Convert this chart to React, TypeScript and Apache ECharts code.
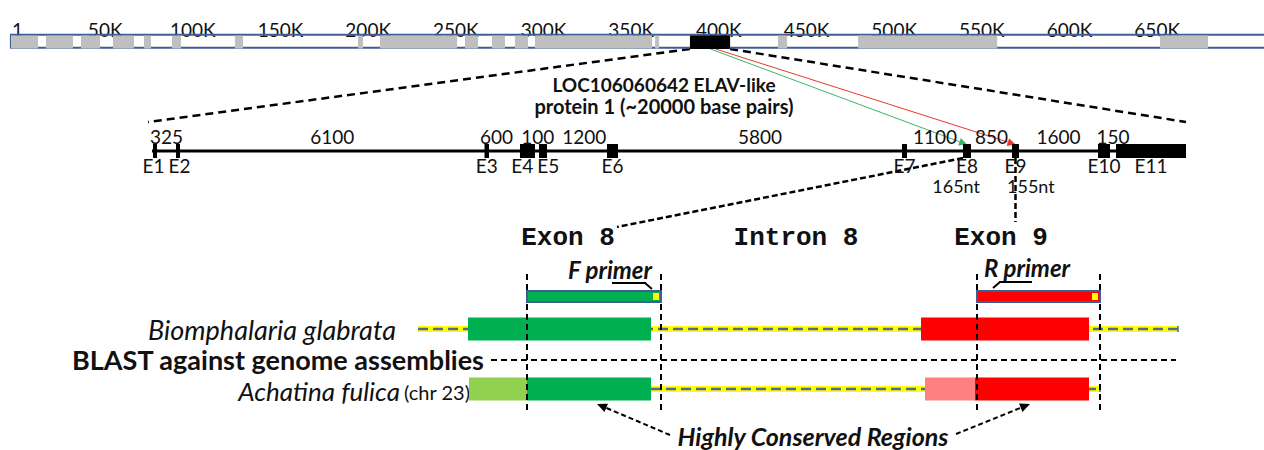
import React, { useEffect, useRef } from "react";
import * as echarts from "echarts";

// ---------- Scaffold (top strip, genome coordinates in bp) ----------
const genomeTicks = [1, 50000, 100000, 150000, 200000, 250000, 300000, 350000, 400000, 450000, 500000, 550000, 600000, 650000];
const genomeTickLabels = ["1", "50K", "100K", "150K", "200K", "250K", "300K", "350K", "400K", "450K", "500K", "550K", "600K", "650K"];
const scaffoldLength = 715200;
const grayStarts = [600, 20500, 40500, 58700, 76400, 92400, 128300, 198500, 211000, 259500, 274900, 288000, 299400, 367900, 438000, 483700, 655900];
const grayEnds = [16000, 35900, 51300, 70700, 80400, 97500, 132900, 201300, 255000, 266900, 282300, 295400, 366200, 370200, 443200, 563000, 683300];
const locusStart = 387800;
const locusEnd = 410700;
const exon8Origin = 399500;
const exon9Origin = 402500;
const locusTitle = ["LOC106060642 ELAV-like", "protein 1 (~20000 base pairs)"];

// ---------- Gene model (bp along the gene) ----------
const geneLength = 20720;
const geneLineStart = 40;
const exonNames = ["E1", "E2", "E3", "E4", "E5", "E6", "E7", "E8", "E9", "E10", "E11"];
const exonStarts = [60, 520, 6690, 7400, 7780, 9140, 15040, 16260, 17240, 18960, 19320];
const exonEnds = [140, 600, 6780, 7700, 7940, 9360, 15140, 16420, 17380, 19200, 20720];
const intronLengths = ["325", "6100", "600", "100", "1200", "5800", "1100", "850", "1600", "150"];
const exonNotes = ["", "", "", "", "", "", "", "165nt", "155nt", "", ""];

// ---------- Zoomed schematic (schematic units) ----------
const zoomHeadings = ["Exon 8", "Intron 8", "Exon 9"];
const speciesNames = ["Biomphalaria glabrata", "Achatina fulica"];
const speciesNote = "(chr 23)";
const backboneStarts = [418, 651];
const backboneEnds = [1178, 1100];
const blockRow = [0, 0, 1, 1, 1, 1];
const blockStarts = [468, 921, 469, 527, 925, 975];
const blockEnds = [651, 1089, 527, 651, 975, 1089];
const blockKinds = ["exon8", "exon9", "exon8Partial", "exon8", "exon9Partial", "exon9"];
const primerNames = ["F primer", "R primer"];
const primerStarts = [527, 977];
const primerEnds = [661, 1100];
const primerKinds = ["exon8", "exon9"];
const blastLabel = "BLAST against genome assemblies";
const conservedLabel = "Highly Conserved Regions";

// ---------- styles / layout ----------
const BLUE = "#3f5e98";
const GRAY = "#bfbfbf";
const INK = "#111111";
const KIND_COLORS: Record<string, string> = {
  exon8: "#00b050",
  exon8Partial: "#92d050",
  exon9: "#ff0000",
  exon9Partial: "#ff8080",
};
const FONT = "Lato";
const GENE_FS = 19;
const ROW_Y = [329, 389];
const BLOCK_H = 23;

function txt(x: number, y: number, text: string, font: string, align = "center", vAlign = "middle", extra: any = {}) {
  return {
    type: "text",
    x,
    y,
    silent: true,
    style: {
      text,
      font,
      fill: INK,
      align,
      verticalAlign: vAlign,
      textAlign: align,
      textVerticalAlign: vAlign,
      ...extra,
    },
  };
}

function seg(x1: number, y1: number, x2: number, y2: number, stroke: string, lineWidth: number, lineDash?: number[]) {
  return {
    type: "line",
    silent: true,
    shape: { x1, y1, x2, y2 },
    style: { stroke, lineWidth, lineDash: lineDash || null },
  };
}

function arrow(fx: number, fy: number, tx: number, ty: number, color: string, lw: number, len: number, half: number, dash?: number[]) {
  const dx = tx - fx;
  const dy = ty - fy;
  const d = Math.hypot(dx, dy);
  const ux = dx / d;
  const uy = dy / d;
  const bx = tx - ux * len;
  const by = ty - uy * len;
  return [
    seg(fx, fy, bx, by, color, lw, dash),
    {
      type: "polygon",
      silent: true,
      shape: {
        points: [
          [tx, ty],
          [bx - uy * half, by + ux * half],
          [bx + uy * half, by - ux * half],
        ],
      },
      style: { fill: color },
    },
  ];
}

// push neighbouring label centres apart so that their estimated widths do not collide
function spread(centers: number[], texts: string[], fs: number, gap: number) {
  const c = centers.slice();
  const w = texts.map((t) => t.length * fs * 0.58);
  for (let k = 0; k < 30; k++) {
    for (let i = 0; i < c.length - 1; i++) {
      const need = (w[i] + w[i + 1]) / 2 + gap;
      const d = c[i + 1] - c[i];
      if (d < need) {
        const p = (need - d) / 2;
        c[i] -= p;
        c[i + 1] += p;
      }
    }
  }
  return c;
}

export default function App() {
  const ref = useRef<HTMLDivElement>(null);

  useEffect(() => {
    if (!ref.current) return;
    const chart = echarts.init(ref.current, null, { renderer: "svg" });

    const geneLabelPositions = (api: any) => {
      const ex = exonStarts.map((s, i) => (api.coord([s, 0])[0] + api.coord([exonEnds[i], 0])[0]) / 2);
      const inx = intronLengths.map((_, i) => (api.coord([exonEnds[i], 0])[0] + api.coord([exonStarts[i + 1], 0])[0]) / 2);
      return {
        exonX: spread(ex, exonNames, GENE_FS, 4),
        intronX: spread(inx, intronLengths, GENE_FS, 8),
      };
    };

    const option: any = {
      animation: false,
      backgroundColor: "#ffffff",
      grid: [
        { left: 10, top: 34, width: 1254, height: 15 },
        { left: 150, top: 144, width: 1036, height: 14 },
        { left: 0, top: 0, width: 1264, height: 450 },
      ],
      xAxis: [
        {
          gridIndex: 0,
          type: "value",
          min: 0,
          max: scaffoldLength,
          position: "top",
          axisLine: { show: false },
          axisTick: { show: false },
          splitLine: { show: false },
          axisLabel: {
            customValues: genomeTicks,
            formatter: (v: number) => {
              const i = genomeTicks.indexOf(v);
              return i >= 0 ? genomeTickLabels[i] : "";
            },
            fontFamily: FONT,
            fontSize: 19,
            color: INK,
            margin: -5,
            padding: [0, 0, 0, 15],
          },
        },
        { gridIndex: 1, type: "value", min: 0, max: geneLength, show: false },
        { gridIndex: 2, type: "value", min: 0, max: 1264, show: false },
      ],
      yAxis: [
        { gridIndex: 0, type: "value", min: 0, max: 1, show: false },
        { gridIndex: 1, type: "value", min: 0, max: 1, show: false },
        { gridIndex: 2, type: "value", min: 0, max: 450, inverse: true, show: false },
      ],
      series: [
        // scaffold outline
        {
          type: "custom",
          name: "scaffold",
          xAxisIndex: 0,
          yAxisIndex: 0,
          clip: false,
          z: 1,
          data: [[0, scaffoldLength]],
          encode: { x: [0, 1] },
          renderItem: (params: any, api: any) => {
            const a = api.coord([api.value(0), 1]);
            const b = api.coord([api.value(1), 0]);
            return {
              type: "group",
              children: [
                { type: "line", shape: { x1: a[0], y1: a[1] + 0.7, x2: b[0], y2: a[1] + 0.7 }, style: { stroke: BLUE, lineWidth: 2 } },
                { type: "line", shape: { x1: a[0], y1: b[1] - 1.3, x2: b[0], y2: b[1] - 1.3 }, style: { stroke: BLUE, lineWidth: 2 } },
                { type: "line", shape: { x1: a[0] + 0.5, y1: a[1] + 0.7, x2: a[0] + 0.5, y2: b[1] - 1.3 }, style: { stroke: BLUE, lineWidth: 1.2 } },
              ],
            };
          },
        },
        // gray blocks
        {
          type: "custom",
          name: "blocks",
          xAxisIndex: 0,
          yAxisIndex: 0,
          clip: false,
          z: 2,
          data: grayStarts.map((s, i) => [s, grayEnds[i]]),
          encode: { x: [0, 1] },
          renderItem: (params: any, api: any) => {
            const a = api.coord([api.value(0), 1]);
            const b = api.coord([api.value(1), 0]);
            return {
              type: "rect",
              shape: { x: a[0], y: a[1] + 1.6, width: b[0] - a[0], height: b[1] - a[1] - 2.1 },
              style: { fill: GRAY },
            };
          },
        },
        // locus (black)
        {
          type: "custom",
          name: "locus",
          xAxisIndex: 0,
          yAxisIndex: 0,
          clip: false,
          z: 3,
          data: [[locusStart, locusEnd]],
          encode: { x: [0, 1] },
          renderItem: (params: any, api: any) => {
            const a = api.coord([api.value(0), 1]);
            const b = api.coord([api.value(1), 0]);
            return {
              type: "rect",
              shape: { x: a[0], y: a[1] + 1.6, width: b[0] - a[0], height: b[1] - a[1] - 1.6 },
              style: { fill: "#000" },
            };
          },
        },
        // gene backbone
        {
          type: "custom",
          name: "gene",
          xAxisIndex: 1,
          yAxisIndex: 1,
          clip: false,
          z: 1,
          data: [[geneLineStart, geneLength]],
          encode: { x: [0, 1] },
          renderItem: (params: any, api: any) => {
            const a = api.coord([api.value(0), 1]);
            const b = api.coord([api.value(1), 0]);
            const y = (a[1] + b[1]) / 2;
            return { type: "line", shape: { x1: a[0], y1: y, x2: b[0], y2: y }, style: { stroke: "#000", lineWidth: 3 } };
          },
        },
        // exons + labels + intron lengths
        {
          type: "custom",
          name: "exons",
          xAxisIndex: 1,
          yAxisIndex: 1,
          clip: false,
          z: 2,
          data: exonStarts.map((s, i) => [s, exonEnds[i]]),
          encode: { x: [0, 1] },
          renderItem: (params: any, api: any) => {
            const i = params.dataIndex;
            const pos = geneLabelPositions(api);
            const a = api.coord([api.value(0), 1]);
            const b = api.coord([api.value(1), 0]);
            const w = Math.max(b[0] - a[0], 4);
            const cx = (a[0] + b[0]) / 2;
            const font = `${GENE_FS}px ${FONT}`;
            const children: any[] = [
              { type: "rect", shape: { x: cx - w / 2, y: a[1], width: w, height: b[1] - a[1] }, style: { fill: "#000" } },
              {
                type: "text",
                x: pos.exonX[i],
                y: b[1] + 7,
                style: { text: exonNames[i], font, fill: INK, align: "center", verticalAlign: "middle", textAlign: "center", textVerticalAlign: "middle" },
              },
            ];
            if (exonNotes[i]) {
              const pairedNext = i + 1 < exonNotes.length && exonNotes[i + 1];
              const pairedPrev = i > 0 && exonNotes[i - 1];
              const align = pairedNext ? "right" : pairedPrev ? "left" : "center";
              const nx = pairedNext ? b[0] + 9 : pairedPrev ? a[0] - 5 : cx;
              children.push({
                type: "text",
                x: nx,
                y: b[1] + 28,
                style: { text: exonNotes[i], font: `18px ${FONT}`, fill: INK, align, verticalAlign: "middle", textAlign: align, textVerticalAlign: "middle" },
              });
            }
            if (i < intronLengths.length) {
              children.push({
                type: "text",
                x: pos.intronX[i],
                y: a[1] - 8,
                style: { text: intronLengths[i], font, fill: INK, align: "center", verticalAlign: "middle", textAlign: "center", textVerticalAlign: "middle" },
              });
            }
            return { type: "group", children };
          },
        },
        // species backbones
        {
          type: "custom",
          name: "backbones",
          xAxisIndex: 2,
          yAxisIndex: 2,
          clip: false,
          z: 1,
          data: backboneStarts.map((s, i) => [s, backboneEnds[i]]),
          encode: { x: [0, 1] },
          renderItem: (params: any, api: any) => {
            const i = params.dataIndex;
            const a = api.coord([api.value(0), ROW_Y[i]]);
            const b = api.coord([api.value(1), ROW_Y[i]]);
            return {
              type: "group",
              children: [
                { type: "line", shape: { x1: a[0], y1: a[1], x2: b[0], y2: b[1] }, style: { stroke: "#ffff00", lineWidth: 6 } },
                { type: "line", shape: { x1: a[0], y1: a[1], x2: b[0], y2: b[1] }, style: { stroke: "#4f6a93", lineWidth: 2.5, lineDash: [10, 5] } },
                { type: "line", shape: { x1: b[0], y1: b[1] - 3, x2: b[0], y2: b[1] + 3 }, style: { stroke: "#4f6a93", lineWidth: 1.5 } },
              ],
            };
          },
        },
        // conserved blocks
        {
          type: "custom",
          name: "alignment",
          xAxisIndex: 2,
          yAxisIndex: 2,
          clip: false,
          z: 2,
          data: blockStarts.map((s, i) => [s, blockEnds[i]]),
          encode: { x: [0, 1] },
          renderItem: (params: any, api: any) => {
            const i = params.dataIndex;
            const y = ROW_Y[blockRow[i]];
            const a = api.coord([api.value(0), y - BLOCK_H / 2]);
            const b = api.coord([api.value(1), y + BLOCK_H / 2]);
            return {
              type: "rect",
              shape: { x: a[0], y: a[1], width: b[0] - a[0], height: b[1] - a[1] },
              style: { fill: KIND_COLORS[blockKinds[i]] },
            };
          },
        },
        // primer bars + windows
        {
          type: "custom",
          name: "primers",
          xAxisIndex: 2,
          yAxisIndex: 2,
          clip: false,
          z: 3,
          data: primerStarts.map((s, i) => [s, primerEnds[i]]),
          encode: { x: [0, 1] },
          renderItem: (params: any, api: any) => {
            const i = params.dataIndex;
            const a = api.coord([api.value(0), 291]);
            const b = api.coord([api.value(1), 302]);
            const top = api.coord([0, 274])[1];
            const bottom = api.coord([0, 414])[1];
            return {
              type: "group",
              children: [
                { type: "line", shape: { x1: a[0], y1: top, x2: a[0], y2: bottom }, style: { stroke: "#000", lineWidth: 2, lineDash: [6, 4] } },
                { type: "line", shape: { x1: b[0], y1: top, x2: b[0], y2: bottom }, style: { stroke: "#000", lineWidth: 2, lineDash: [6, 4] } },
                {
                  type: "rect",
                  shape: { x: a[0], y: a[1], width: b[0] - a[0], height: b[1] - a[1] },
                  style: { fill: KIND_COLORS[primerKinds[i]], stroke: BLUE, lineWidth: 2 },
                },
                { type: "rect", shape: { x: b[0] - 8, y: a[1] + 2, width: 6, height: b[1] - a[1] - 4 }, style: { fill: "#ffff00" } },
              ],
            };
          },
        },
      ],
    };

    chart.setOption(option);

    const gx = (v: number) => chart.convertToPixel({ xAxisIndex: 0 }, v) as number;
    const nx = (v: number) => chart.convertToPixel({ xAxisIndex: 1 }, v) as number;
    const L = (x: number, y: number) => chart.convertToPixel({ gridIndex: 2 }, [x, y]) as number[];

    const els: any[] = [];

    // zoom lines from locus to gene model
    const l0 = L(gx(locusStart), 49);
    const l1 = L(nx(0) - 2, 122);
    const r0 = L(gx(locusEnd), 49);
    const r1 = L(nx(geneLength), 122);
    els.push(seg(l0[0], l0[1], l1[0], l1[1], "#000", 2.5, [8, 5]));
    els.push(seg(r0[0], r0[1], r1[0], r1[1], "#000", 2.5, [8, 5]));

    // exon 8 / exon 9 pointers
    const e8c = nx((exonStarts[7] + exonEnds[7]) / 2);
    const e9c = nx((exonStarts[8] + exonEnds[8]) / 2);
    els.push(...arrow(gx(exon8Origin), 49, e8c, 144.5, "#3cb46e", 1, 8, 4));
    els.push(...arrow(gx(exon9Origin), 49, e9c, 144.5, "#e8392f", 1, 8, 4));

    // title
    els.push(txt(664, 84, locusTitle[0], `bold 19px ${FONT}`));
    els.push(txt(664, 106, locusTitle[1], `bold 20px ${FONT}`));

    // links from gene model to schematic
    const h8 = L(617, 227);
    els.push(seg(nx(exonStarts[7]), 158, h8[0], h8[1], "#000", 2.5, [6, 3]));
    els.push(seg(e9c, 158, e9c, 222, "#000", 2.5, [6, 3]));

    // schematic headings
    const headX = [568, 796, 1001];
    zoomHeadings.forEach((h, i) => {
      const p = L(headX[i], 238);
      els.push(txt(p[0], p[1], h, `bold 26px 'Liberation Mono'`));
    });

    // primer labels + direction hooks
    const fp = L(610, 269);
    els.push(txt(fp[0], fp[1], primerNames[0], `italic bold 24px ${FONT}`));
    const rp = L(1027, 267);
    els.push(txt(rp[0], rp[1], primerNames[1], `italic bold 24px ${FONT}`));
    els.push(seg(612, 283, 646, 283, "#000", 2));
    els.push(seg(645, 283, 652, 289, "#000", 2));
    els.push(seg(999, 282, 1032, 282, "#000", 2));
    els.push(seg(1000, 282, 993, 288, "#000", 2));

    // species labels
    els.push(txt(396, ROW_Y[0], speciesNames[0], `italic 27px ${FONT}`, "right"));
    els.push(txt(400, ROW_Y[1] + 2, speciesNames[1], `italic 26px ${FONT}`, "right"));
    els.push(txt(404, ROW_Y[1] + 3, speciesNote, `20px ${FONT}`, "left"));

    // BLAST separator
    els.push(txt(484, 359, blastLabel, `bold 27px ${FONT}`, "right"));
    els.push(seg(491, 360, 1176, 360, "#000", 2, [6, 4]));

    // conserved regions
    els.push(txt(813, 436, conservedLabel, `italic bold 25px ${FONT}`));
    els.push(...arrow(670, 435, 597, 404, "#000", 2, 10, 4.5, [5, 3]));
    els.push(...arrow(956, 434, 1030, 404, "#000", 2, 10, 4.5, [5, 3]));

    chart.setOption({ graphic: els });

    return () => chart.dispose();
  }, []);

  return (
    <div
      ref={ref}
      style={{ position: "fixed", left: 0, top: 0, width: 1264, height: 450, background: "#fff" }}
    />
  );
}
